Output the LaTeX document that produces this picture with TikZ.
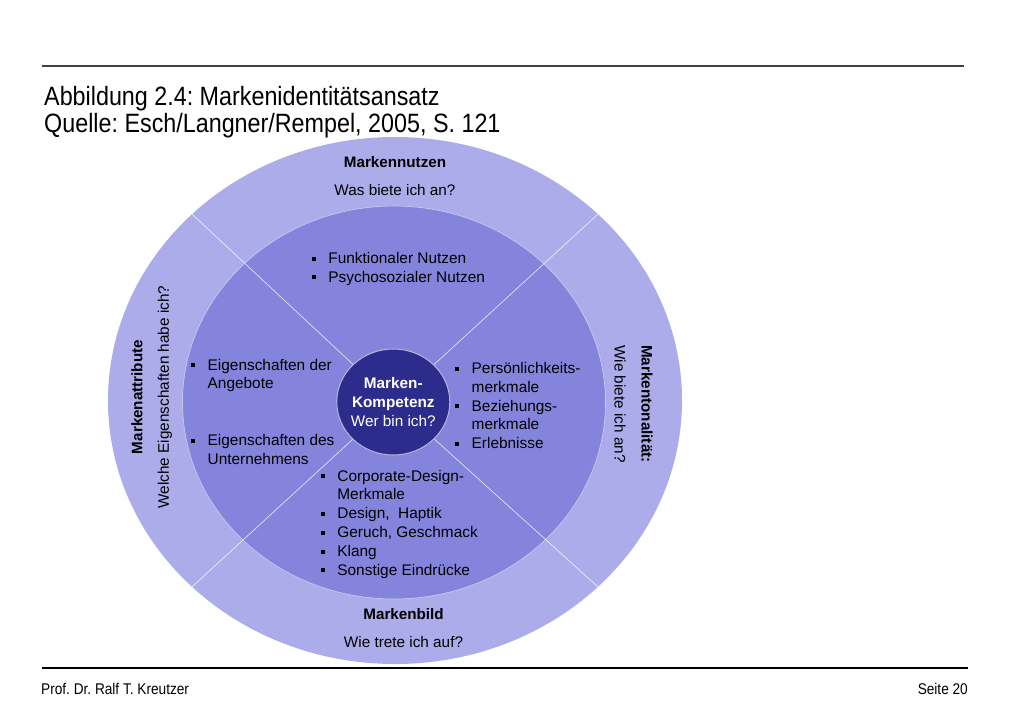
\documentclass[tikz,border=0pt]{standalone}
\usepackage{fontspec}
\setmainfont{Liberation Sans}
\newfontfamily\titlefont[FakeStretch=0.88]{Liberation Sans}
\definecolor{outerring}{HTML}{ACACEB}
\definecolor{innerring}{HTML}{8484DC}
\definecolor{corefill}{HTML}{2C2C8C}
\definecolor{ruletop}{HTML}{404040}
\newcommand{\blt}{\makebox[16.5pt][l]{\rule[0.18em]{4pt}{4pt}}}
\newcommand{\bind}{\hspace*{16.5pt}}
\frenchspacing
\begin{document}
\begin{tikzpicture}[x=1pt,y=-1pt,
  body/.style={font={\fontsize{15.4}{18.8}\selectfont}, inner sep=0pt, align=left, anchor=north west, text=black},
  head/.style={font={\fontsize{15.2}{18}\selectfont\bfseries}, inner sep=0pt, anchor=base, text=black},
  ques/.style={font={\fontsize{15.3}{18}\selectfont}, inner sep=0pt, anchor=base, text=black},
  divider/.style={draw=white, line width=0.7pt, opacity=0.75},
  titletext/.style={font={\titlefont\fontsize{26.5}{30}\selectfont}, inner sep=0pt, anchor=base west},
  foottext/.style={font={\titlefont\fontsize{15.5}{18}\selectfont}, inner sep=0pt}]
\fill[white] (0,0) rectangle (1024,709);
\useasboundingbox (0,0) rectangle (1024,709);
% rules
\draw[ruletop, line width=2pt] (42,66) -- (964,66);
\draw[black, line width=1.5pt] (42,668) -- (968,668);
% titles
\node[titletext] (title1) at (44,105) {Abbildung 2.4: Markenidentitätsansatz};
\node[titletext] (title2) at (44,132) {Quelle: Esch/Langner/Rempel, 2005, S. 121};
% footer
\node[foottext, anchor=base west] (author) at (41,694) {Prof. Dr. Ralf T. Kreutzer};
\node[foottext, anchor=base east] (page) at (968,694) {Seite 20};
% rings
\fill[outerring] (395,400.5) ellipse [x radius=287pt, y radius=263.5pt];
\filldraw[fill=innerring, draw=white!55!innerring, line width=0.7pt] (394,402.5) ellipse [x radius=211.5pt, y radius=196.5pt];
% divider end points on the outer ring
\coordinate (o1) at (192.06,214.18);
\coordinate (o2) at (597.94,214.18);
\coordinate (o3) at (597.94,586.82);
\coordinate (o4) at (192.06,586.82);
\coordinate (cc) at (393.3,402);
\draw[divider] (cc) -- (o1);
\draw[divider] (cc) -- (o2);
\draw[divider] (cc) -- (o3);
\draw[divider] (cc) -- (o4);
% core
\fill[corefill] (cc) ellipse [x radius=56.5pt, y radius=53pt];
\draw[white!65!corefill, line width=1pt] (cc) ellipse [x radius=56.5pt, y radius=53pt];
\node[font={\fontsize{15.3}{18.8}\selectfont}, text=white, align=center, inner sep=0pt] (core) at (cc) {\textbf{Marken-}\\\textbf{Kompetenz}\\Wer bin ich?};
% outer ring labels
\node[head] (nutzT) at (395,167.5) {Markennutzen};
\node[ques] (nutzQ) at (395,195.5) {Was biete ich an?};
\node[head] (bildT) at (403.5,619.5) {Markenbild};
\node[ques] (bildQ) at (403.5,647.5) {Wie trete ich auf?};
\node[head, rotate=90, anchor=center] (attrT) at (137,397) {Markenattribute};
\node[ques, rotate=90, anchor=center] (attrQ) at (165,397) {Welche Eigenschaften habe ich?};
\node[head, rotate=-90, anchor=west] (tonT) at (647,345) {Markentonalität:};
\node[ques, rotate=-90, anchor=west] (tonQ) at (620,345) {Wie biete ich an?};
% inner ring lists
\node[body] (listTop) at (311.7,252.1) {\blt Funktionaler Nutzen\\\blt Psychosozialer Nutzen};
\node[body] (listLeft) at (191,358.8) {\blt Eigenschaften der\\\bind Angebote\\[37.6pt]\blt Eigenschaften des\\\bind Unternehmens};
\node[body] (listRight) at (455,362.1) {\blt Persönlichkeits-\\\bind merkmale\\\blt Beziehungs-\\\bind merkmale\\\blt Erlebnisse};
\node[body] (listBottom) at (320.7,469.8) {\blt Corporate-Design-\\\bind Merkmale\\\blt Design,~ Haptik\\\blt Geruch, Geschmack\\\blt Klang\\\blt Sonstige Eindrücke};
\end{tikzpicture}
\end{document}
